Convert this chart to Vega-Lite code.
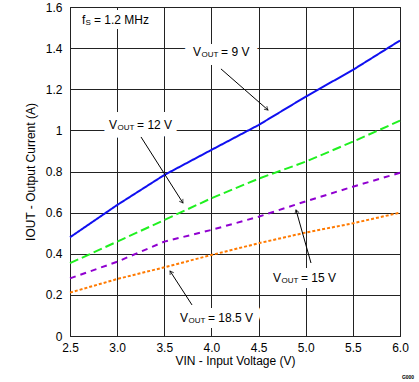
{
  "$schema": "https://vega.github.io/schema/vega-lite/v6.json",
  "width": 330,
  "height": 329,
  "autosize": {"type": "none"},
  "padding": {"left": 70, "top": 7, "right": 19, "bottom": 46},
  "background": "white",
  "config": {
    "view": {"stroke": "black", "strokeWidth": 1},
    "font": "Liberation Sans",
    "axis": {
      "grid": true, "gridColor": "#222222", "gridWidth": 1, "gridOpacity": 1,
      "domain": false, "ticks": false, "labelFlush": false, "labelOverlap": false,
      "labelFont": "Liberation Sans", "labelFontSize": 12, "labelColor": "black",
      "titleFont": "Liberation Sans", "titleFontSize": 12, "titleFontWeight": "normal", "titleColor": "black"
    }
  },
  "datasets": {
    "curves": [
      {"vin": 2.5, "iout": 0.48, "vout": "9 V"},
      {"vin": 3.0, "iout": 0.637, "vout": "9 V"},
      {"vin": 3.5, "iout": 0.783, "vout": "9 V"},
      {"vin": 4.0, "iout": 0.905, "vout": "9 V"},
      {"vin": 4.5, "iout": 1.026, "vout": "9 V"},
      {"vin": 5.0, "iout": 1.164, "vout": "9 V"},
      {"vin": 5.5, "iout": 1.294, "vout": "9 V"},
      {"vin": 6.0, "iout": 1.437, "vout": "9 V"},
      {"vin": 2.5, "iout": 0.354, "vout": "12 V"},
      {"vin": 3.0, "iout": 0.459, "vout": "12 V"},
      {"vin": 3.5, "iout": 0.564, "vout": "12 V"},
      {"vin": 4.0, "iout": 0.67, "vout": "12 V"},
      {"vin": 4.5, "iout": 0.765, "vout": "12 V"},
      {"vin": 5.0, "iout": 0.848, "vout": "12 V"},
      {"vin": 5.5, "iout": 0.945, "vout": "12 V"},
      {"vin": 6.0, "iout": 1.047, "vout": "12 V"},
      {"vin": 2.5, "iout": 0.28, "vout": "15 V"},
      {"vin": 3.0, "iout": 0.361, "vout": "15 V"},
      {"vin": 3.5, "iout": 0.459, "vout": "15 V"},
      {"vin": 4.0, "iout": 0.516, "vout": "15 V"},
      {"vin": 4.5, "iout": 0.58, "vout": "15 V"},
      {"vin": 5.0, "iout": 0.655, "vout": "15 V"},
      {"vin": 5.5, "iout": 0.726, "vout": "15 V"},
      {"vin": 6.0, "iout": 0.794, "vout": "15 V"},
      {"vin": 2.5, "iout": 0.211, "vout": "18.5 V"},
      {"vin": 3.0, "iout": 0.277, "vout": "18.5 V"},
      {"vin": 3.5, "iout": 0.334, "vout": "18.5 V"},
      {"vin": 4.0, "iout": 0.394, "vout": "18.5 V"},
      {"vin": 4.5, "iout": 0.451, "vout": "18.5 V"},
      {"vin": 5.0, "iout": 0.503, "vout": "18.5 V"},
      {"vin": 5.5, "iout": 0.548, "vout": "18.5 V"},
      {"vin": 6.0, "iout": 0.60, "vout": "18.5 V"}
    ],
    "labels": [
      {"id": "9", "rest": "= 9 V", "tx": 3.805, "ty": 1.381, "ax": 4.101, "ay": 1.299, "bx": 4.600, "by": 1.099},
      {"id": "12", "rest": "= 12 V", "tx": 2.914, "ty": 1.026, "ax": 3.253, "ay": 0.968, "bx": 3.698, "by": 0.647},
      {"id": "15", "rest": "= 15 V", "tx": 4.653, "ty": 0.282, "ax": 5.056, "ay": 0.355, "bx": 4.897, "by": 0.613},
      {"id": "18.5", "rest": "= 18.5 V", "tx": 3.667, "ty": 0.0876, "ax": 3.794, "ay": 0.151, "bx": 3.561, "by": 0.316}
    ],
    "notes": [
      {"tx": 2.627, "ty": 1.537}
    ],
    "code": [
      {"tx": 6.02, "ty": -0.2, "t": "G000"}
    ]
  },
  "layer": [
    {
      "data": {"name": "notes"},
      "mark": {"type": "text", "text": "f", "align": "left", "baseline": "middle", "fontSize": 12, "fill": "white", "stroke": "white", "strokeWidth": 10, "strokeJoin": "round"},
      "encoding": {
        "x": {"field": "tx", "type": "quantitative", "scale": {"domain": [2.5, 6.0]},
          "axis": {"values": [2.5, 3.0, 3.5, 4.0, 4.5, 5.0, 5.5, 6.0], "format": ".1f", "labelPadding": 6, "title": "VIN - Input Voltage (V)", "titlePadding": 2}},
        "y": {"field": "ty", "type": "quantitative", "scale": {"domain": [0, 1.6]},
          "axis": {"values": [0, 0.2, 0.4, 0.6, 0.8, 1.0, 1.2, 1.4, 1.6], "format": ".1~f", "labelPadding": 8, "title": "IOUT - Output Current (A)", "titlePadding": 8}}
      }
    },
    {
      "data": {"name": "notes"},
      "mark": {"type": "text", "text": "= 1.2 MHz", "align": "left", "baseline": "middle", "dx": 12, "fontSize": 12, "fill": "white", "stroke": "white", "strokeWidth": 10, "strokeJoin": "round"},
      "encoding": {"x": {"field": "tx", "type": "quantitative"}, "y": {"field": "ty", "type": "quantitative"}}
    },
    {
      "data": {"name": "labels"},
      "mark": {"type": "text", "text": "V", "align": "left", "baseline": "middle", "fontSize": 12, "fill": "white", "stroke": "white", "strokeWidth": 16, "strokeJoin": "round"},
      "encoding": {"x": {"field": "tx", "type": "quantitative"}, "y": {"field": "ty", "type": "quantitative"}}
    },
    {
      "data": {"name": "labels"},
      "mark": {"type": "text", "text": "OUT", "align": "left", "baseline": "middle", "dx": 8.5, "dy": 3, "fontSize": 8, "fill": "white", "stroke": "white", "strokeWidth": 16, "strokeJoin": "round"},
      "encoding": {"x": {"field": "tx", "type": "quantitative"}, "y": {"field": "ty", "type": "quantitative"}}
    },
    {
      "data": {"name": "labels"},
      "mark": {"type": "text", "align": "left", "baseline": "middle", "dx": 28, "fontSize": 12, "fill": "white", "stroke": "white", "strokeWidth": 16, "strokeJoin": "round"},
      "encoding": {"x": {"field": "tx", "type": "quantitative"}, "y": {"field": "ty", "type": "quantitative"}, "text": {"field": "rest"}}
    },
    {
      "data": {"name": "curves"},
      "mark": {"type": "line", "strokeWidth": 2},
      "encoding": {
        "x": {"field": "vin", "type": "quantitative"},
        "y": {"field": "iout", "type": "quantitative"},
        "color": {"field": "vout", "type": "nominal", "legend": null,
          "scale": {"domain": ["9 V", "12 V", "15 V", "18.5 V"], "range": ["#1010f0", "#20f020", "#9000d0", "#ff7a00"]}},
        "strokeDash": {"field": "vout", "type": "nominal", "legend": null,
          "scale": {"domain": ["9 V", "12 V", "15 V", "18.5 V"], "range": [[1, 0], [9, 4], [6, 5], [3, 2]]}}
      }
    },
    {
      "data": {"name": "labels"},
      "mark": {"type": "rule", "color": "black", "strokeWidth": 1},
      "encoding": {
        "x": {"field": "ax", "type": "quantitative"}, "y": {"field": "ay", "type": "quantitative"},
        "x2": {"field": "bx"}, "y2": {"field": "by"}
      }
    },
    {
      "data": {"name": "labels"},
      "transform": [{"filter": "datum.id == '9'"}],
      "mark": {"type": "point", "shape": "M-0.55,0.9L0,0L0.55,0.9", "filled": false, "stroke": "black", "strokeWidth": 1, "size": 60, "angle": 131},
      "encoding": {"x": {"field": "bx", "type": "quantitative"}, "y": {"field": "by", "type": "quantitative"}}
    },
    {
      "data": {"name": "labels"},
      "transform": [{"filter": "datum.id == '12'"}],
      "mark": {"type": "point", "shape": "M-0.55,0.9L0,0L0.55,0.9", "filled": false, "stroke": "black", "strokeWidth": 1, "size": 60, "angle": 147},
      "encoding": {"x": {"field": "bx", "type": "quantitative"}, "y": {"field": "by", "type": "quantitative"}}
    },
    {
      "data": {"name": "labels"},
      "transform": [{"filter": "datum.id == '15'"}],
      "mark": {"type": "point", "shape": "M-0.55,0.9L0,0L0.55,0.9", "filled": false, "stroke": "black", "strokeWidth": 1, "size": 60, "angle": 344},
      "encoding": {"x": {"field": "bx", "type": "quantitative"}, "y": {"field": "by", "type": "quantitative"}}
    },
    {
      "data": {"name": "labels"},
      "transform": [{"filter": "datum.id == '18.5'"}],
      "mark": {"type": "point", "shape": "M-0.55,0.9L0,0L0.55,0.9", "filled": false, "stroke": "black", "strokeWidth": 1, "size": 60, "angle": 327},
      "encoding": {"x": {"field": "bx", "type": "quantitative"}, "y": {"field": "by", "type": "quantitative"}}
    },
    {
      "data": {"name": "labels"},
      "mark": {"type": "text", "text": "V", "align": "left", "baseline": "middle", "fontSize": 12, "color": "black"},
      "encoding": {"x": {"field": "tx", "type": "quantitative"}, "y": {"field": "ty", "type": "quantitative"}}
    },
    {
      "data": {"name": "labels"},
      "mark": {"type": "text", "text": "OUT", "align": "left", "baseline": "middle", "dx": 8.5, "dy": 3, "fontSize": 8, "color": "black"},
      "encoding": {"x": {"field": "tx", "type": "quantitative"}, "y": {"field": "ty", "type": "quantitative"}}
    },
    {
      "data": {"name": "labels"},
      "mark": {"type": "text", "align": "left", "baseline": "middle", "dx": 28, "fontSize": 12, "color": "black"},
      "encoding": {"x": {"field": "tx", "type": "quantitative"}, "y": {"field": "ty", "type": "quantitative"}, "text": {"field": "rest"}}
    },
    {
      "data": {"name": "notes"},
      "mark": {"type": "text", "text": "f", "align": "left", "baseline": "middle", "fontSize": 12, "color": "black"},
      "encoding": {"x": {"field": "tx", "type": "quantitative"}, "y": {"field": "ty", "type": "quantitative"}}
    },
    {
      "data": {"name": "notes"},
      "mark": {"type": "text", "text": "S", "align": "left", "baseline": "middle", "dx": 3.5, "dy": 3, "fontSize": 8, "color": "black"},
      "encoding": {"x": {"field": "tx", "type": "quantitative"}, "y": {"field": "ty", "type": "quantitative"}}
    },
    {
      "data": {"name": "notes"},
      "mark": {"type": "text", "text": "= 1.2 MHz", "align": "left", "baseline": "middle", "dx": 12, "fontSize": 12, "color": "black"},
      "encoding": {"x": {"field": "tx", "type": "quantitative"}, "y": {"field": "ty", "type": "quantitative"}}
    },
    {
      "data": {"name": "code"},
      "mark": {"type": "text", "align": "left", "baseline": "middle", "fontSize": 5, "fontWeight": "bold", "color": "black"},
      "encoding": {"x": {"field": "tx", "type": "quantitative"}, "y": {"field": "ty", "type": "quantitative"}, "text": {"field": "t"}}
    }
  ]
}
